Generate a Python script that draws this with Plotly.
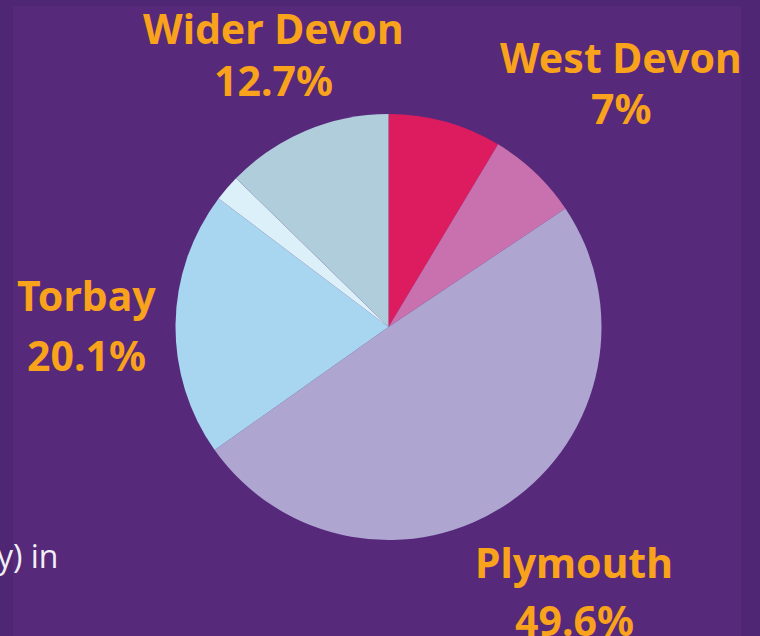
import plotly.graph_objects as go

# Data
regions = ["Wider Devon (north)", "West Devon", "Plymouth", "Torbay", "Other", "Wider Devon"]
shares = [8.6, 7.0, 49.6, 20.1, 2.0, 12.7]
colors = ["#DC1C5E", "#C970AE", "#AFA5D1", "#A8D5EF", "#DBF0F8", "#B0CDDB"]

# Labelled slices
label_names = ["Wider Devon", "West Devon", "Torbay", "Plymouth"]
label_values = [12.7, 7.0, 20.1, 49.6]

W, H = 760, 636
# label centre x (px), name y (px), pct y (px)
label_pos = {
    "Wider Devon": (273, 28, 79.5),
    "West Devon": (621, 57, 108),
    "Torbay": (86, 295, 354.5),
    "Plymouth": (574, 562, 619.5),
}

def fmt(v):
    return (f"{v:.1f}".rstrip("0").rstrip(".")) + "%"

cx, cy, r = 388.5, 327, 213

fig = go.Figure()
fig.add_trace(go.Pie(
    labels=regions,
    values=shares,
    sort=False,
    direction="clockwise",
    rotation=0,
    marker=dict(colors=colors, line=dict(width=0)),
    textinfo="none",
    hoverinfo="label+percent",
    showlegend=False,
    domain=dict(x=[(cx - r) / W, (cx + r) / W], y=[(H - cy - r) / H, (H - cy + r) / H]),
))

orange = "#F9A21B"
font_name = "Noto Sans"
annotations = []
for name, val in zip(label_names, label_values):
    x, yn, yp = label_pos[name]
    annotations.append(dict(x=x / W, y=1 - yn / H, xref="paper", yref="paper", text=f"<b>{name}</b>",
                            showarrow=False, xanchor="center", yanchor="middle",
                            font=dict(family=font_name, size=41, color=orange)))
    annotations.append(dict(x=x / W, y=1 - yp / H, xref="paper", yref="paper", text=f"<b>{fmt(val)}</b>",
                            showarrow=False, xanchor="center", yanchor="middle",
                            font=dict(family=font_name, size=41, color=orange)))

annotations.append(dict(x=-5 / W, y=1 - 555 / H, xref="paper", yref="paper", text="y) in",
                        showarrow=False, xanchor="left", yanchor="middle",
                        font=dict(family="Open Sans", size=32, color="#F2F0F5")))

fig.update_layout(
    width=W, height=H,
    margin=dict(l=0, r=0, t=0, b=0),
    paper_bgcolor="#4E2673",
    plot_bgcolor="#4E2673",
    annotations=annotations,
    shapes=[dict(type="rect", xref="paper", yref="paper", x0=13 / W, x1=741 / W, y0=-0.1, y1=1 - 6 / H,
                 fillcolor="#56297A", line=dict(width=0), layer="below")],
)

fig.write_html("out.html", config={"displayModeBar": False},
               post_script="document.body.style.margin='0';document.body.style.background='#4E2673';")
